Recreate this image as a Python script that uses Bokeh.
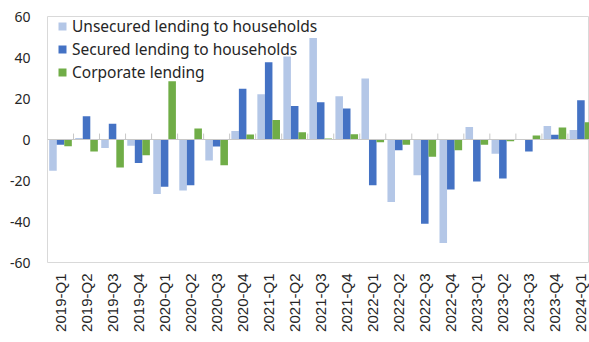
import math
from bokeh.plotting import figure
from bokeh.models import ColumnDataSource, Span, Legend, LegendItem, FixedTicker, Range1d
from bokeh.embed import file_html
from bokeh.resources import INLINE

quarters = ["2019-Q1", "2019-Q2", "2019-Q3", "2019-Q4",
            "2020-Q1", "2020-Q2", "2020-Q3", "2020-Q4",
            "2021-Q1", "2021-Q2", "2021-Q3", "2021-Q4",
            "2022-Q1", "2022-Q2", "2022-Q3", "2022-Q4",
            "2023-Q1", "2023-Q2", "2023-Q3", "2023-Q4",
            "2024-Q1"]
unsecured = [-15.2, 0.7, -4.1, -3.0, -26.6, -24.9, -10.2, 4.1, 22.1, 40.5, 49.5,
             21.1, 29.7, -30.5, -17.4, -50.5, 6.1, -7.0, -0.3, 6.6, 4.6]
secured = [-2.5, 11.3, 7.7, -11.5, -23.0, -22.3, -3.4, 24.8, 37.7, 16.4, 18.2,
           15.1, -22.3, -5.2, -41.1, -24.4, -20.5, -19.0, -5.9, 2.3, 19.2]
corporate = [-3.3, -5.9, -13.6, -7.7, 28.4, 5.4, -12.5, 2.5, 9.5, 3.5, 0.5,
             2.6, -1.3, -2.6, -8.4, -5.2, -2.6, -0.8, 2.0, 5.9, 8.4]
series_names = ["Unsecured lending to households", "Secured lending to households", "Corporate lending"]
y_ticks = [-60, -40, -20, 0, 20, 40, 60]
y_labels = ["-60", "-40", "-20", "0", "20", "40", "60"]

colors = ["#B4C7E7", "#4472C4", "#70AD47"]
bar_w = 0.29
offsets = [-bar_w, 0.0, bar_w]

idx = list(range(len(quarters)))
src = ColumnDataSource(dict(
    q=quarters,
    x0=[i + offsets[0] for i in idx],
    x1=[i + offsets[1] for i in idx],
    x2=[i + offsets[2] for i in idx],
    unsecured=unsecured, secured=secured, corporate=corporate,
))
bounds = [i + 0.5 for i in idx[:-1]]
tick_src = ColumnDataSource(dict(x=bounds, y0=[0] * len(bounds), y1=[2.9] * len(bounds)))

p = figure(width=589, height=342, output_backend="svg", toolbar_location=None,
           x_range=Range1d(-0.5, 20.33), y_range=Range1d(-60, 60),
           min_border_left=47, min_border_right=0, min_border_top=16, min_border_bottom=80)
p.background_fill_color = "white"
p.border_fill_color = "white"
p.outline_line_color = "#D9D9D9"
p.outline_line_width = 1
p.xgrid.visible = False
p.ygrid.visible = False

# zero axis line and category separator ticks
p.segment(x0="x", y0="y0", x1="x", y1="y1", source=tick_src, line_color="#C8C8C8", line_width=1)
p.add_layout(Span(location=0, dimension="width", line_color="#C8C8C8", line_width=1))

renderers = []
for key, xcol, c in zip(["unsecured", "secured", "corporate"], ["x0", "x1", "x2"], colors):
    r = p.vbar(x=xcol, top=key, bottom=0, width=bar_w, source=src,
               fill_color=c, line_color=None)
    renderers.append(r)

legend = Legend(items=[LegendItem(label=n, renderers=[r]) for n, r in zip(series_names, renderers)],
                location=(10, 179), orientation="vertical")
legend.background_fill_alpha = 0
legend.border_line_color = None
legend.padding = 0
legend.margin = 0
legend.spacing = 1
legend.glyph_width = 10
legend.glyph_height = 10
legend.label_height = 20
legend.label_standoff = 5
legend.label_text_font = "Noto Sans"
legend.label_text_font_size = "15.5px"
legend.label_text_color = "#262626"
legend.label_text_baseline = "middle"
p.add_layout(legend, "center")

# x axis
xa = p.xaxis[0]
xa.ticker = FixedTicker(ticks=idx)
xa.major_label_overrides = {i: q for i, q in zip(idx, quarters)}
xa.major_label_orientation = math.pi / 2
xa.axis_line_color = None
xa.major_tick_line_color = None
xa.minor_tick_line_color = None
xa.major_tick_out = 0
xa.major_tick_in = 0
xa.major_label_standoff = 11
xa.major_label_text_font = "Liberation Sans"
xa.major_label_text_font_size = "15px"
xa.major_label_text_color = "#262626"

# y axis
ya = p.yaxis[0]
ya.ticker = FixedTicker(ticks=y_ticks)
ya.major_label_overrides = {t: l for t, l in zip(y_ticks, y_labels)}
ya.axis_line_color = None
ya.major_tick_line_color = None
ya.minor_tick_line_color = None
ya.major_tick_out = 0
ya.major_tick_in = 0
ya.major_label_standoff = 17
ya.major_label_text_font = "Noto Sans"
ya.major_label_text_font_size = "14px"
ya.major_label_text_color = "#262626"

open("out.html", "w").write(file_html(p, INLINE))
